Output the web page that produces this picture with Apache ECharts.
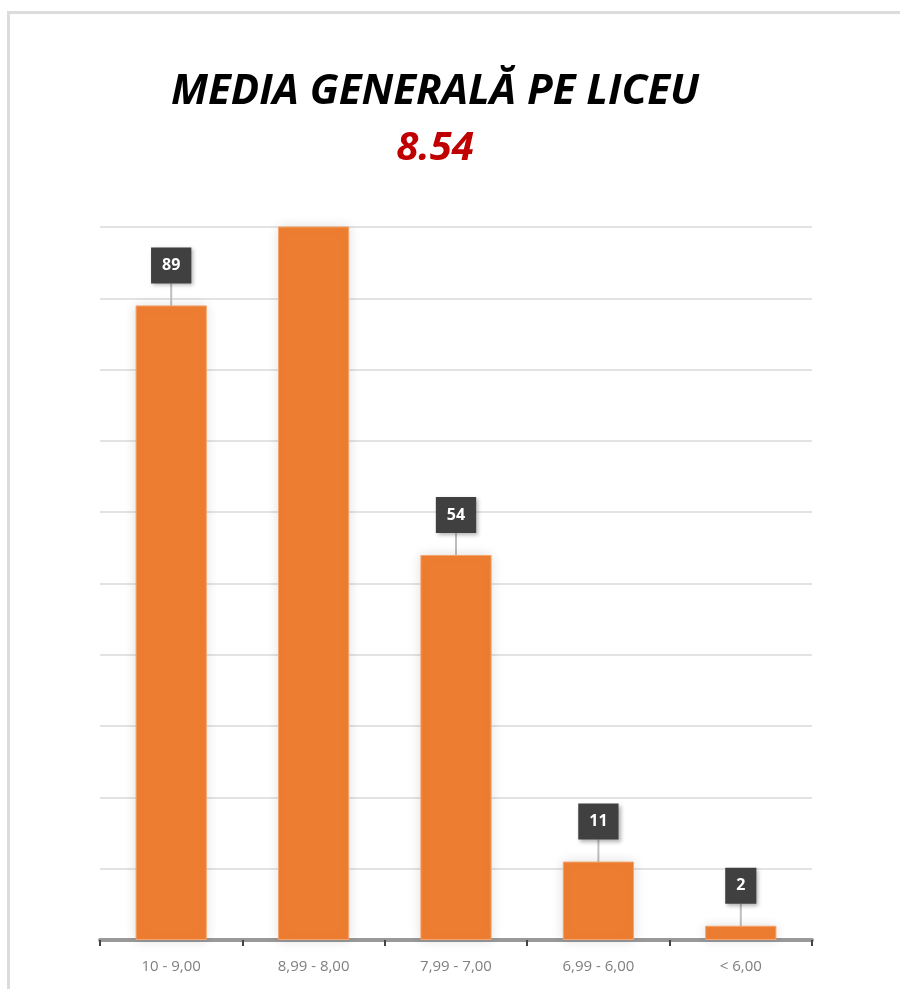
<!DOCTYPE html>
<html>
<head>
<meta charset="utf-8">
<script src="https://cdn.jsdelivr.net/npm/echarts@6/dist/echarts.min.js"></script>
<style>
  html, body { margin: 0; padding: 0; background: #fff; }
  #chart { width: 900px; height: 989px; }
</style>
</head>
<body>
<div id="chart"></div>
<script>
// date grafic
var categorii = ['10 - 9,00', '8,99 - 8,00', '7,99 - 7,00', '6,99 - 6,00', '< 6,00'];
var valori = [89, 104, 54, 11, 2];
var faraEticheta = [false, true, false, false, false]; // bara a 2-a iese din grafic
var titlu = 'MEDIA GENERALĂ PE LICEU';
var medie = '8.54';

var myChart = echarts.init(document.getElementById('chart'));

var option = {
  backgroundColor: '#fff',
  animation: false,
  title: {
    text: titlu,
    subtext: medie,
    left: 430,
    textAlign: 'center',
    top: 66,
    itemGap: 16,
    textStyle: {
      fontFamily: 'Open Sans',
      fontSize: 42,
      fontWeight: 'bold',
      fontStyle: 'italic',
      color: '#000'
    },
    subtextStyle: {
      fontFamily: 'Open Sans',
      fontSize: 40,
      fontWeight: 'bold',
      fontStyle: 'italic',
      color: '#C00000'
    }
  },
  graphic: [
    { type: 'rect', shape: { x: 7, y: 11, width: 893, height: 3 }, style: { fill: '#dcdcdc' } },
    { type: 'rect', shape: { x: 7, y: 11, width: 3, height: 978 }, style: { fill: '#dcdcdc' } }
  ],
  grid: {
    left: 100,
    right: 88,
    top: 227,
    bottom: 49
  },
  xAxis: {
    type: 'category',
    data: categorii,
    axisLine: { lineStyle: { color: '#999', width: 4 } },
    axisTick: { show: true, length: 6, lineStyle: { color: '#444', width: 2 } },
    axisLabel: {
      fontFamily: 'Open Sans',
      fontSize: 15,
      color: '#7f7f7f',
      margin: 19
    }
  },
  yAxis: {
    type: 'value',
    min: 0,
    max: 100,
    interval: 10,
    axisLabel: { show: false },
    axisLine: { show: false },
    axisTick: { show: false },
    splitLine: { lineStyle: { color: '#e3e3e3', width: 2 } }
  },
  series: [
    {
      type: 'bar',
      barWidth: '50%',
      clip: true,
      data: valori.map(function (v, i) {
        return {
          value: v,
          label: { show: !faraEticheta[i] }
        };
      }),
      itemStyle: {
        color: '#ED7D31',
        borderColor: '#F4A46C',
        borderWidth: 1,
        shadowColor: 'rgba(0,0,0,0.12)',
        shadowBlur: 12
      },
      label: {
        show: true,
        position: 'top',
        distance: 2,
        color: '#fff',
        fontFamily: 'Open Sans',
        fontWeight: 'bold',
        fontSize: 16,
        backgroundColor: '#404040',
        padding: [10, 11, 10, 11],
        shadowColor: 'rgba(0,0,0,0.3)',
        shadowBlur: 4,
        shadowOffsetX: 2,
        shadowOffsetY: 2
      },
      labelLayout: { dy: -20 },
      labelLine: {
        show: true,
        lineStyle: { color: '#bfbfbf', width: 2 }
      }
    }
  ]
};

myChart.setOption(option);
</script>
</body>
</html>
